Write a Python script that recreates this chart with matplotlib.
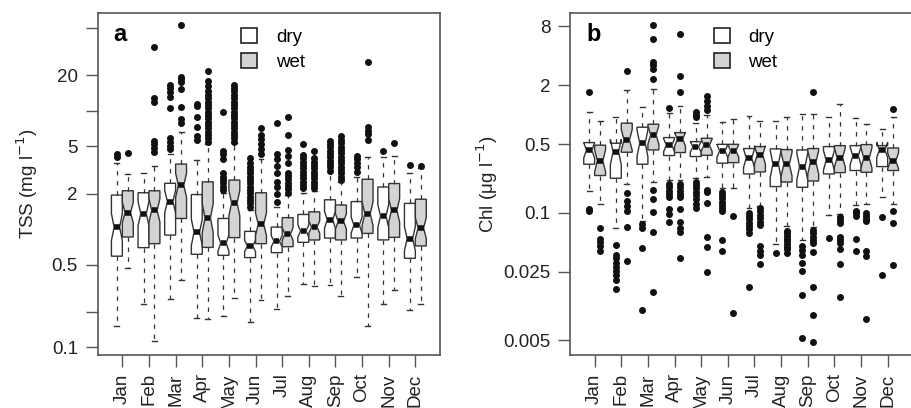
import numpy as np
import matplotlib
matplotlib.use("Agg")
import matplotlib.pyplot as plt
from matplotlib.patches import Patch

plt.rcParams['font.family'] = ['Liberation Sans', 'DejaVu Sans']

months = ['Jan', 'Feb', 'Mar', 'Apr', 'May', 'Jun', 'Jul', 'Aug', 'Sep', 'Oct', 'Nov', 'Dec']

# ---- panel a: TSS (mg l-1), box stats ----
tss_dry_lo  = [0.15, 0.231, 0.255, 0.176, 0.184, 0.164, 0.212, 0.341, 0.336, 0.396, 0.232, 0.207]
tss_dry_q1  = [0.59, 0.697, 0.89, 0.612, 0.60, 0.574, 0.632, 0.773, 0.84, 0.84, 0.81, 0.566]
tss_dry_med = [1.04, 1.35, 1.71, 0.94, 0.76, 0.72, 0.789, 0.964, 1.2, 1.08, 1.29, 0.83]
tss_dry_q3  = [1.94, 2.03, 2.44, 1.96, 1.23, 0.957, 1.04, 1.33, 1.77, 1.71, 2.27, 1.65]
tss_dry_hi  = [3.6, 2.96, 4.3, 3.84, 2.01, 1.45, 1.55, 2.03, 2.96, 2.78, 4.05, 2.96]
tss_dry_out = [
    [4.1, 4.3],
    [],
    [4.73, 5.08, 5.45, 5.86, 10.5, 13.2, 14.5, 15.7, 16.6],
    [5.68, 6.13, 7.31, 8.83, 10.9, 11.4],
    [2.14, 2.29, 2.44, 2.6, 2.78, 2.96, 3.94, 4.3, 4.6, 9.85],
    [1.55, 1.65, 1.76, 1.88, 2.01, 2.14, 2.29, 2.44, 2.6, 2.78, 2.96, 3.16, 3.37, 3.6, 3.97],
    [1.69, 1.98, 2.29, 2.52, 2.96, 3.44, 3.89, 4.32, 7.85],
    [2.21, 2.36, 2.52, 2.69, 2.87, 3.06, 3.27, 3.49, 3.72, 3.97, 4.24, 5.21],
    [3.13, 3.33, 3.56, 3.79, 4.05, 4.32, 4.61, 4.92, 5.25, 5.6],
    [3.02, 3.37, 3.65, 3.89, 4.15],
    [4.58],
    [3.46],
]
tss_wet_lo  = [0.466, 0.112, 0.371, 0.173, 0.26, 0.251, 0.272, 0.33, 0.273, 0.15, 0.305, 0.232]
tss_wet_q1  = [0.857, 0.753, 1.23, 0.70, 0.847, 0.753, 0.71, 0.809, 0.81, 0.92, 0.852, 0.72]
tss_wet_med = [1.38, 1.44, 2.35, 1.24, 1.66, 1.10, 0.909, 1.04, 1.16, 1.35, 1.44, 1.02]
tss_wet_q3  = [2.11, 2.11, 3.55, 2.51, 2.6, 2.03, 1.25, 1.4, 1.6, 2.64, 2.43, 1.79]
tss_wet_hi  = [2.91, 3.42, 6.6, 5.25, 5.32, 3.89, 1.95, 2.11, 2.52, 4.05, 4.19, 3.27]
tss_wet_out = [
    [4.38],
    [4.5, 4.85, 5.2, 5.6, 12.0, 12.9, 35.0],
    [7.85, 8.6, 10.7, 15.2, 17.7, 18.6, 19.4, 53.0],
    [5.49, 5.86, 6.25, 6.67, 7.12, 7.6, 8.11, 8.66, 9.23, 9.85, 10.5, 11.2, 12.0, 12.8,
     13.6, 14.8, 16.2, 17.9, 21.9],
    [5.49, 5.86, 6.25, 6.67, 7.12, 7.6, 8.11, 8.66, 9.23, 9.85, 10.5, 11.2, 12.0, 12.8,
     13.6, 14.6, 15.5, 16.6],
    [4.29, 4.73, 5.25, 5.75, 6.25, 7.12],
    [2.03, 2.17, 2.31, 2.47, 2.64, 2.81, 3.0, 3.65, 4.15, 4.64, 6.3, 8.82],
    [2.21, 2.36, 2.52, 2.69, 2.87, 3.06, 3.27, 3.49, 3.72, 3.97, 4.6],
    [2.6, 2.78, 2.96, 3.16, 3.37, 3.6, 3.84, 4.1, 4.38, 4.67, 4.98, 5.32, 5.68, 6.13],
    [5.68, 6.34, 6.76, 7.31, 26.1],
    [5.35],
    [3.44],
]

# ---- panel b: Chl (ug l-1) ----
chl_dry_lo  = [0.167, 0.0698, 0.083, 0.216, 0.225, 0.178, 0.111, 0.048, 0.0527, 0.0948, 0.12, 0.144]
chl_dry_q1  = [0.313, 0.225, 0.313, 0.384, 0.375, 0.321, 0.249, 0.185, 0.182, 0.249, 0.27, 0.296]
chl_dry_med = [0.435, 0.418, 0.513, 0.49, 0.471, 0.428, 0.361, 0.315, 0.296, 0.343, 0.381, 0.438]
chl_dry_q3  = [0.521, 0.513, 0.748, 0.586, 0.533, 0.5, 0.453, 0.449, 0.438, 0.474, 0.485, 0.485]
chl_dry_hi  = [1.06, 0.94, 1.2, 1.05, 0.834, 0.84, 0.977, 0.875, 1.01, 0.961, 0.924, 0.72]
chl_dry_out = [
    [1.71, 0.108, 0.104],
    [0.0469, 0.037, 0.0342, 0.0304, 0.0281, 0.0254, 0.0229, 0.0205, 0.0168],
    [0.0762, 0.0693, 0.0433, 0.0101],
    [1.17, 0.197, 0.182, 0.168, 0.155, 0.144, 0.108, 0.098, 0.081],
    [1.06, 1.0, 0.946, 0.208, 0.192, 0.178, 0.164, 0.152, 0.137, 0.123, 0.111],
    [0.164, 0.152, 0.141, 0.130, 0.120, 0.111, 0.105, 0.0527, 0.041],
    [0.1, 0.0927, 0.0857, 0.0792, 0.0732, 0.0677, 0.0617, 0.0175],
    [0.0385],
    [0.0457, 0.0416, 0.037, 0.0304, 0.0256, 0.0144, 0.0052],
    [0.0548],
    [0.105, 0.0987, 0.0927, 0.0543, 0.041],
    [0.0912, 0.0231],
]
chl_wet_lo  = [0.123, 0.197, 0.208, 0.216, 0.234, 0.178, 0.117, 0.0732, 0.0721, 0.0964, 0.123, 0.123]
chl_wet_q1  = [0.24, 0.415, 0.438, 0.412, 0.386, 0.325, 0.261, 0.206, 0.211, 0.257, 0.259, 0.27]
chl_wet_med = [0.339, 0.555, 0.624, 0.563, 0.49, 0.428, 0.39, 0.313, 0.328, 0.366, 0.363, 0.339]
chl_wet_q3  = [0.49, 0.822, 0.802, 0.659, 0.577, 0.5, 0.474, 0.442, 0.453, 0.485, 0.497, 0.459]
chl_wet_hi  = [0.875, 1.80, 1.83, 1.24, 1.0, 0.901, 0.875, 0.946, 1.01, 1.29, 0.809, 0.95]
chl_wet_out = [
    [0.0705, 0.0544, 0.0507, 0.0457, 0.0407],
    [2.82, 0.158, 0.132, 0.118, 0.105, 0.0721, 0.0319],
    [8.26, 5.93, 3.48, 3.22, 2.95, 2.35, 0.171, 0.138, 0.102, 0.0631, 0.0155],
    [6.68, 2.47, 1.71, 0.197, 0.182, 0.168, 0.155, 0.144, 0.108, 0.081, 0.0693, 0.0641, 0.0342],
    [1.56, 1.37, 1.22, 1.11, 0.171, 0.162, 0.125, 0.057, 0.045, 0.0246],
    [0.0927, 0.00953],
    [0.111, 0.103, 0.0949, 0.0877, 0.081, 0.075, 0.0457, 0.041, 0.0372, 0.0297],
    [0.0656, 0.0617, 0.058, 0.0544, 0.051, 0.048, 0.045, 0.0423, 0.0391],
    [1.73, 0.0667, 0.0617, 0.057, 0.0527, 0.0488, 0.0394, 0.0173, 0.009, 0.0048],
    [0.0897, 0.0843, 0.0792, 0.0561, 0.0527, 0.0495, 0.0427, 0.0302, 0.0137],
    [0.0987, 0.0927, 0.0871, 0.0818, 0.041, 0.0363, 0.0082],
    [1.14, 0.105, 0.0792, 0.0292],
]

FS = 13.5


def make_stats(lo, q1, med, q3, hi, out, k):
    stats = []
    for i in range(len(med)):
        # notch half-width as a fraction of the (log) box height
        half = k * (np.log10(q3[i]) - np.log10(q1[i]))
        stats.append(dict(whislo=lo[i], q1=q1[i], med=med[i], q3=q3[i], whishi=hi[i],
                          fliers=out[i],
                          cilo=10 ** (np.log10(med[i]) - half),
                          cihi=10 ** (np.log10(med[i]) + half)))
    return stats


def draw_boxes(ax, stats, pos, face):
    w = 0.41
    ax.bxp(stats, positions=pos, widths=w, capwidths=w * 0.45,
           shownotches=True, patch_artist=True, manage_ticks=False,
           boxprops=dict(facecolor=face, edgecolor='#333333', linewidth=1.0),
           whiskerprops=dict(color='#333333', linewidth=0.9, linestyle=(0, (3.5, 4.5))),
           capprops=dict(color='#333333', linewidth=1.0),
           medianprops=dict(color='#111111', linewidth=4.0, solid_capstyle='butt'),
           flierprops=dict(marker='o', markerfacecolor='#111111', markeredgecolor='#111111',
                           markersize=4.0, linestyle='none'))


fig = plt.figure(figsize=(9.12, 4.08), dpi=100)
axa = fig.add_axes([97.7 / 912, 53 / 408, 342.3 / 912, 341.7 / 408])
axb = fig.add_axes([570 / 912, 53 / 408, 342.3 / 912, 341.7 / 408])

x = np.arange(1, 13)
panels = [
    (axa, make_stats(tss_dry_lo, tss_dry_q1, tss_dry_med, tss_dry_q3, tss_dry_hi, tss_dry_out, 0.22),
     make_stats(tss_wet_lo, tss_wet_q1, tss_wet_med, tss_wet_q3, tss_wet_hi, tss_wet_out, 0.22)),
    (axb, make_stats(chl_dry_lo, chl_dry_q1, chl_dry_med, chl_dry_q3, chl_dry_hi, chl_dry_out, 0.36),
     make_stats(chl_wet_lo, chl_wet_q1, chl_wet_med, chl_wet_q3, chl_wet_hi, chl_wet_out, 0.36)),
]

for ax, dry, wet in panels:
    ax.set_yscale('log')
    draw_boxes(ax, dry, x - 0.205, 'white')
    draw_boxes(ax, wet, x + 0.205, '#d3d3d3')
    ax.set_xlim(0.075, 12.925)
    ax.set_xticks(x)
    ax.set_xticklabels(months, rotation=90, fontsize=FS)
    ax.minorticks_off()
    for s in ax.spines.values():
        s.set_color('#555555')
        s.set_linewidth(1.2)
    ax.tick_params(axis='both', which='major', direction='out', length=8.7, width=1.0,
                   color='#555555', labelsize=FS, labelcolor='#222222')
    ax.tick_params(axis='y', pad=5.5)
    ax.tick_params(axis='x', pad=4.5)
    ax.legend(handles=[Patch(facecolor='white', edgecolor='#222222', linewidth=1.2),
                       Patch(facecolor='#d3d3d3', edgecolor='#222222', linewidth=1.2)],
              labels=['dry', 'wet'], loc='upper left', bbox_to_anchor=(0.42, 0.958),
              frameon=False, borderpad=0, borderaxespad=0, handlelength=0.85,
              handleheight=0.85, handletextpad=1.0, labelspacing=0.38, fontsize=FS)

# panel a axis
axa.set_ylim(0.0861, 66.9)
axa.set_yticks([0.1, 0.2, 0.5, 2, 5, 10, 20, 50])
axa.set_yticklabels(['0.1', '', '0.5', '2', '5', '', '20', ''])
axa.set_ylabel('TSS (mg l$^{-1}$)', fontsize=FS, color='#222222')
axa.yaxis.set_label_coords(-0.17, 0.5)
axa.text(0.045, 0.92, 'a', transform=axa.transAxes, fontsize=17, fontweight='bold')

# panel b axis
axb.set_ylim(0.00352, 10.9)
axb.set_yticks([0.005, 0.025, 0.1, 0.5, 2, 8])
axb.set_yticklabels(['0.005', '0.025', '0.1', '0.5', '2', '8'])
axb.minorticks_off()
axb.set_ylabel('Chl (\u03bcg l$^{-1}$)', fontsize=FS, color='#222222')
axb.yaxis.set_label_coords(-0.205, 0.5)
axb.text(0.047, 0.92, 'b', transform=axb.transAxes, fontsize=17, fontweight='bold')

fig.savefig('out.png', dpi=100)
